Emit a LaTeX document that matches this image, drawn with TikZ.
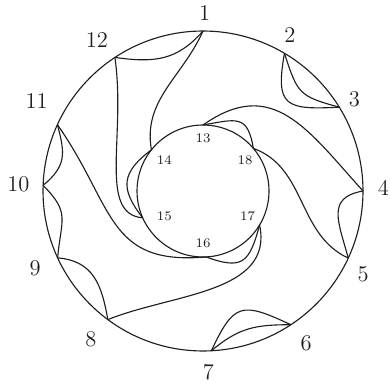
\documentclass[tikz,border=0pt]{standalone}
\definecolor{ink}{HTML}{1E1E1E}
\tikzset{
  rim/.style={draw=ink,circle,line width=0.6pt,inner sep=0pt},
  chord/.style={draw=ink,line width=0.6pt},
  outer label/.style={font=\large,text=ink,inner sep=0pt},
  inner label/.style={font=\scriptsize,text=ink,inner sep=0pt}
}
\begin{document}
\begin{tikzpicture}[x=0.01875cm,y=0.01875cm]
  \useasboundingbox (-203,-191) rectangle (187,191);

  \node[rim,minimum size=6cm] (outer) at (0,0) {};
  \node[rim,minimum size=2.475cm] (hub) at (0,0) {};

  \coordinate (v1) at (90:160);
  \coordinate (v2) at (59.4:160);
  \coordinate (v3) at (31.6:160);
  \coordinate (v4) at (0:160);
  \coordinate (v5) at (-24.8:160);
  \coordinate (v6) at (-56.7:160);
  \coordinate (v7) at (-87:160);
  \coordinate (v8) at (-126.5:160);
  \coordinate (v9) at (-155.3:160);
  \coordinate (v10) at (178:160);
  \coordinate (v11) at (155.5:160);
  \coordinate (v12) at (123.4:160);
  \coordinate (v13) at (90:66);
  \coordinate (v14) at (141.4:66);
  \coordinate (v15) at (-156:66);
  \coordinate (v16) at (-87.4:66);
  \coordinate (v17) at (-31:66);
  \coordinate (v18) at (40.2:66);

  \node[outer label] (l1) at (89.5:177.7) {1};
  \node[outer label] (l2) at (60.9:178.6) {2};
  \node[outer label] (l3) at (31.2:176.9) {3};
  \node[outer label] (l4) at (0.9:180.3) {4};
  \node[outer label] (l5) at (-27.4:180.5) {5};
  \node[outer label] (l6) at (-55.9:183.9) {6};
  \node[outer label] (l7) at (-88.3:180.8) {7};
  \node[outer label] (l8) at (-127.1:186) {8};
  \node[outer label] (l9) at (-155.3:184.9) {9};
  \node[outer label] (l10) at (177.9:184.8) {10};
  \node[outer label] (l11) at (151.5:189.2) {11};
  \node[outer label] (l12) at (125.1:184.7) {12};
  \node[inner label] (l13) at (90:53) {13};
  \node[inner label] (l14) at (141.3:49.6) {14};
  \node[inner label] (l15) at (-147.1:46.1) {15};
  \node[inner label] (l16) at (-90:52.3) {16};
  \node[inner label] (l17) at (-29.2:51.2) {17};
  \node[inner label] (l18) at (36.4:52.2) {18};

  \draw[chord] (v12) to[out=-8,in=229,looseness=1.1] (v1);
  \draw[chord] (v1) to[out=-114,in=100] (v14);
  \draw[chord] (v12) .. controls +(-82:80) and +(175:45) .. (v15);
  \draw[chord] (v14) to[out=217,in=128,looseness=1.4] (v15);
  \draw[chord] (v11) to[out=-75,in=40,looseness=1.25] (v10);
  \draw[chord] (v11) .. controls +(-55:100) and +(185:100) .. (v16);
  \draw[chord] (v10) to[out=-45,in=85,looseness=1.35] (v9);
  \draw[chord] (v9) to[out=-5,in=100,looseness=1.15] (v8);
  \draw[chord] (v8) to[out=22,in=-78] (v17);
  \draw[chord] (v16) to[out=-20,in=-105,looseness=1.6] (v17);
  \draw[chord] (v7) to[out=65,in=155,looseness=1.65] (v6);
  \draw[chord] (v7) to[out=40,in=180,looseness=1.1] (v6);
  \draw[chord] (v4) to[out=190,in=105,looseness=1.4] (v5);
  \draw[chord] (v18) to[out=-20,in=155] (v5);
  \draw[chord] (v13) to[out=10,in=100,looseness=1.6] (v18);
  \draw[chord] (v13) to[out=35,in=132,looseness=1.25] (v4);
  \draw[chord] (v2) to[out=-100,in=183,looseness=1.8] (v3);
  \draw[chord] (v2) to[out=-72,in=165,looseness=1.4] (v3);
\end{tikzpicture}
\end{document}
